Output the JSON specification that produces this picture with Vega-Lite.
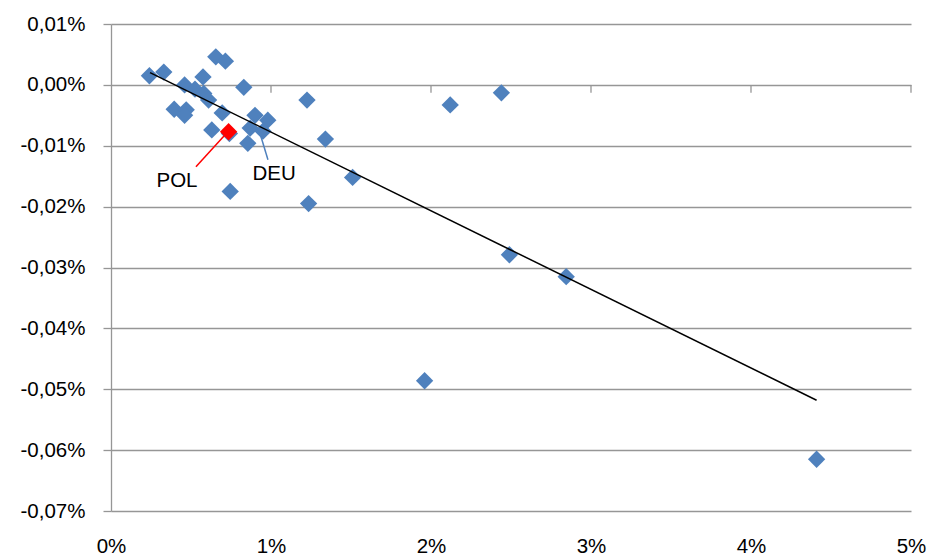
{
  "$schema": "https://vega.github.io/schema/vega-lite/v6.json",
  "width": 800,
  "height": 487,
  "autosize": {"type": "none"},
  "padding": {"left": 111, "top": 24, "right": 19, "bottom": 44},
  "background": "white",
  "config": {
    "locale": {
      "number": {"decimal": ",", "thousands": ".", "grouping": [3], "currency": ["", " €"], "minus": "-"}
    },
    "font": "Liberation Sans",
    "view": {"stroke": null}
  },
  "datasets": {
    "countries": [
      {"x": 0.0024, "y": 0.000015, "name": ""},
      {"x": 0.0033, "y": 0.000021, "name": ""},
      {"x": 0.00655, "y": 0.000046, "name": ""},
      {"x": 0.00715, "y": 0.000039, "name": ""},
      {"x": 0.00575, "y": 0.000013, "name": ""},
      {"x": 0.0046, "y": 0.0, "name": ""},
      {"x": 0.0083, "y": -0.000004, "name": ""},
      {"x": 0.00525, "y": -0.000007, "name": ""},
      {"x": 0.0058, "y": -0.000014, "name": ""},
      {"x": 0.0061, "y": -0.000025, "name": ""},
      {"x": 0.00395, "y": -0.00004, "name": ""},
      {"x": 0.0047, "y": -0.000041, "name": ""},
      {"x": 0.0046, "y": -0.00005, "name": ""},
      {"x": 0.00695, "y": -0.000046, "name": ""},
      {"x": 0.0063, "y": -0.000074, "name": ""},
      {"x": 0.0074, "y": -0.00008, "name": ""},
      {"x": 0.009, "y": -0.00005, "name": ""},
      {"x": 0.0098, "y": -0.000058, "name": ""},
      {"x": 0.0087, "y": -0.000071, "name": ""},
      {"x": 0.0095, "y": -0.000076, "name": "DEU"},
      {"x": 0.00855, "y": -0.000096, "name": ""},
      {"x": 0.01225, "y": -0.000025, "name": ""},
      {"x": 0.0134, "y": -0.000089, "name": ""},
      {"x": 0.0151, "y": -0.000152, "name": ""},
      {"x": 0.00745, "y": -0.000175, "name": ""},
      {"x": 0.01235, "y": -0.000195, "name": ""},
      {"x": 0.0212, "y": -0.000033, "name": ""},
      {"x": 0.0244, "y": -0.000013, "name": ""},
      {"x": 0.0196, "y": -0.000486, "name": ""},
      {"x": 0.0249, "y": -0.000279, "name": ""},
      {"x": 0.02845, "y": -0.000315, "name": ""},
      {"x": 0.0441, "y": -0.000615, "name": ""}
    ],
    "highlight": [
      {"x": 0.00735, "y": -0.000077, "name": "POL"}
    ],
    "trend": [
      {"x": 0.00244, "y": 0.00002},
      {"x": 0.0441, "y": -0.000518}
    ],
    "ticks": [
      {"x": 0.01}, {"x": 0.02}, {"x": 0.03}, {"x": 0.04}, {"x": 0.05}
    ],
    "leaders": [
      {"name": "POL", "x": 0.00531, "y": -0.0001344, "x2": 0.00719, "y2": -0.0000803},
      {"name": "DEU", "x": 0.00981, "y": -0.000123, "x2": 0.009375, "y2": -0.0000852}
    ],
    "labels": [
      {"name": "POL", "x": 0.004125, "y": -0.0001574},
      {"name": "DEU", "x": 0.01019, "y": -0.0001459}
    ]
  },
  "layer": [
    {
      "data": {"name": "countries"},
      "mark": {"type": "point", "shape": "diamond", "filled": true, "size": 300, "color": "#4f81bd", "opacity": 1},
      "encoding": {
        "x": {
          "field": "x", "type": "quantitative",
          "scale": {"domain": [0, 0.05], "nice": false, "zero": false},
          "axis": {
            "title": null, "format": ".0%", "values": [0, 0.01, 0.02, 0.03, 0.04, 0.05],
            "grid": false, "domain": false, "ticks": false,
            "labelFontSize": 20.5, "labelColor": "#000000", "labelPadding": 25,
            "labelFont": "Liberation Sans", "labelFlush": false
          }
        },
        "y": {
          "field": "y", "type": "quantitative",
          "scale": {"domain": [-0.0007, 0.0001], "nice": false, "zero": false},
          "axis": {
            "title": null, "format": ".2%",
            "values": [0.0001, 0, -0.0001, -0.0002, -0.0003, -0.0004, -0.0005, -0.0006, -0.0007],
            "grid": true, "gridColor": "#969696", "gridWidth": 1.3,
            "domain": true, "domainColor": "#969696", "domainWidth": 1.3,
            "ticks": true, "tickColor": "#969696", "tickSize": 8, "tickWidth": 1.3,
            "labelFontSize": 20.5, "labelColor": "#000000", "labelPadding": 18,
            "labelFont": "Liberation Sans"
          }
        }
      }
    },
    {
      "data": {"name": "ticks"},
      "mark": {"type": "rule", "color": "#969696", "strokeWidth": 1.3},
      "encoding": {
        "x": {"field": "x", "type": "quantitative"},
        "y": {"datum": 0, "type": "quantitative"},
        "y2": {"datum": -0.000013}
      }
    },
    {
      "data": {"name": "trend"},
      "mark": {"type": "line", "color": "#000000", "strokeWidth": 1.5},
      "encoding": {
        "x": {"field": "x", "type": "quantitative"},
        "y": {"field": "y", "type": "quantitative"}
      }
    },
    {
      "data": {"name": "leaders"},
      "mark": {"type": "rule", "strokeWidth": 1.5},
      "encoding": {
        "x": {"field": "x", "type": "quantitative"},
        "y": {"field": "y", "type": "quantitative"},
        "x2": {"field": "x2"},
        "y2": {"field": "y2"},
        "color": {
          "field": "name", "type": "nominal",
          "scale": {"domain": ["POL", "DEU"], "range": ["#ff0000", "#4f81bd"]},
          "legend": null
        }
      }
    },
    {
      "data": {"name": "highlight"},
      "mark": {"type": "point", "shape": "diamond", "filled": true, "size": 300, "color": "#ff0000", "opacity": 1},
      "encoding": {
        "x": {"field": "x", "type": "quantitative"},
        "y": {"field": "y", "type": "quantitative"}
      }
    },
    {
      "data": {"name": "labels"},
      "mark": {"type": "text", "fontSize": 20.5, "color": "#000000", "align": "center", "baseline": "middle", "font": "Liberation Sans"},
      "encoding": {
        "x": {"field": "x", "type": "quantitative"},
        "y": {"field": "y", "type": "quantitative"},
        "text": {"field": "name"}
      }
    }
  ]
}
